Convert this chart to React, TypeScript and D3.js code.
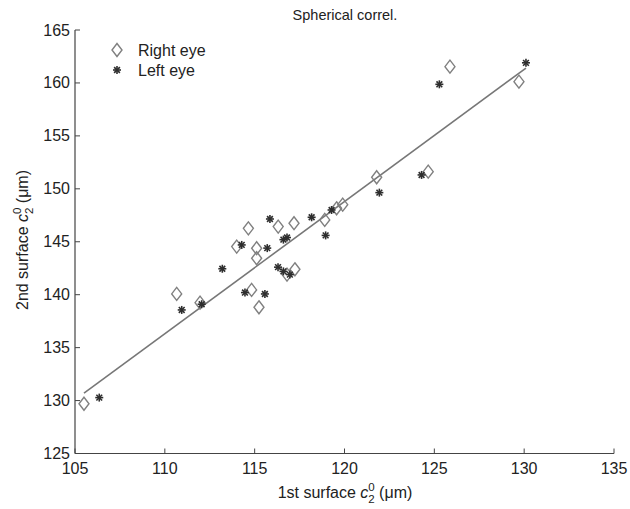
import React from "react";
import * as d3 from "d3";

const W = 630;
const H = 509;

const xDomain = [105, 135];
const yDomain = [125, 165];
const xTicks = [105, 110, 115, 120, 125, 130, 135];
const yTicks = [125, 130, 135, 140, 145, 150, 155, 160, 165];

const rightX = [105.5, 110.66, 111.96, 114.0, 114.65, 114.83, 115.11, 115.11, 115.24, 116.31, 117.19, 117.24, 116.8, 118.9, 119.56, 119.9, 121.79, 124.66, 125.87, 129.71];
const rightY = [129.7, 140.07, 139.25, 144.54, 146.27, 140.45, 144.39, 143.44, 138.81, 146.43, 146.75, 142.4, 141.9, 147.06, 148.16, 148.5, 151.09, 151.62, 161.54, 160.12];

const leftX = [106.35, 110.94, 112.05, 113.2, 114.28, 114.46, 115.57, 115.7, 115.85, 116.6, 116.8, 116.3, 116.6, 116.96, 118.17, 118.95, 119.28, 121.94, 124.29, 125.28, 130.1];
const leftY = [130.28, 138.56, 139.1, 142.45, 144.7, 140.2, 140.07, 144.4, 147.15, 145.2, 145.4, 142.6, 142.2, 141.9, 147.31, 145.6, 148.0, 149.64, 151.31, 159.87, 161.9];

const fitX = [105.5, 130.1];
const fitY = [130.7, 161.4];

const title = "Spherical correl.";
const legendLabels = ["Right eye", "Left eye"];

const FONT = "Liberation Sans, Arial, sans-serif";
const AXIS = "#444";
const FS = 16;

function Diamond({ cx, cy }: { cx: number; cy: number }) {
  const p = `M${cx},${cy - 6.5}L${cx + 5},${cy}L${cx},${cy + 6.5}L${cx - 5},${cy}Z`;
  return <path d={p} fill="none" stroke="#808080" strokeWidth={1.4} />;
}

function Star({ cx, cy }: { cx: number; cy: number }) {
  const r = 4;
  const d = r * 0.72;
  return (
    <g stroke="#2e2e2e" strokeWidth={1.6}>
      <line x1={cx - r} y1={cy} x2={cx + r} y2={cy} />
      <line x1={cx} y1={cy - r} x2={cx} y2={cy + r} />
      <line x1={cx - d} y1={cy - d} x2={cx + d} y2={cy + d} />
      <line x1={cx - d} y1={cy + d} x2={cx + d} y2={cy - d} />
    </g>
  );
}

export default function App() {
  const x = d3.scaleLinear().domain(xDomain).range([75, 614]);
  const y = d3.scaleLinear().domain(yDomain).range([453.5, 30]);
  const line = d3.line<number>().x((_, i) => x(fitX[i])).y((v) => y(v));

  return (
    <svg width={W} height={H} style={{ position: "absolute", left: 0, top: 0, background: "#fff" }} fontFamily={FONT}>
      <text x={345} y={20} textAnchor="middle" fontSize={14.5} fill="#222">{title}</text>

      {/* axes */}
      <line x1={x(105)} y1={y(125)} x2={x(135)} y2={y(125)} stroke={AXIS} strokeWidth={1.2} />
      <line x1={x(105)} y1={y(125)} x2={x(105)} y2={y(165)} stroke={AXIS} strokeWidth={1.2} />
      {xTicks.map((t) => (
        <g key={"xt" + t}>
          <line x1={x(t)} x2={x(t)} y1={y(125)} y2={y(125) - 5} stroke={AXIS} strokeWidth={1} />
          <text x={x(t)} y={y(125) + 20} textAnchor="middle" fontSize={FS} fill="#222">{t}</text>
        </g>
      ))}
      {yTicks.map((t) => (
        <g key={"yt" + t}>
          <line x1={x(105)} x2={x(105) + 5} y1={y(t)} y2={y(t)} stroke={AXIS} strokeWidth={1} />
          <text x={x(105) - 5} y={y(t) + 5.5} textAnchor="end" fontSize={FS} fill="#222">{t}</text>
        </g>
      ))}

      {/* fit line */}
      <path d={line(fitY) || ""} fill="none" stroke="#777" strokeWidth={1.6} />

      {/* data */}
      {rightX.map((v, i) => (
        <Diamond key={"r" + i} cx={x(v)} cy={y(rightY[i])} />
      ))}
      {leftX.map((v, i) => (
        <Star key={"l" + i} cx={x(v)} cy={y(leftY[i])} />
      ))}

      {/* legend */}
      <Diamond cx={117} cy={50} />
      <text x={138} y={55.5} fontSize={FS} fill="#222">{legendLabels[0]}</text>
      <Star cx={117} cy={70} />
      <text x={138} y={75.5} fontSize={FS} fill="#222">{legendLabels[1]}</text>

      {/* x label */}
      <text x={345} y={498} textAnchor="middle" fontSize={FS} fill="#222">
        1st surface <tspan fontStyle="italic">c</tspan>
        <tspan fontSize={11.5} dy={-7}>0</tspan>
        <tspan fontSize={11.5} dx={-6.5} dy={12}>2</tspan>
        <tspan dy={-5}> (μm)</tspan>
      </text>

      {/* y label */}
      <text transform={`translate(28,240) rotate(-90)`} textAnchor="middle" fontSize={FS} fill="#222">
        2nd surface <tspan fontStyle="italic">c</tspan>
        <tspan fontSize={11.5} dy={-7}>0</tspan>
        <tspan fontSize={11.5} dx={-6.5} dy={12}>2</tspan>
        <tspan dy={-5}> (μm)</tspan>
      </text>
    </svg>
  );
}
